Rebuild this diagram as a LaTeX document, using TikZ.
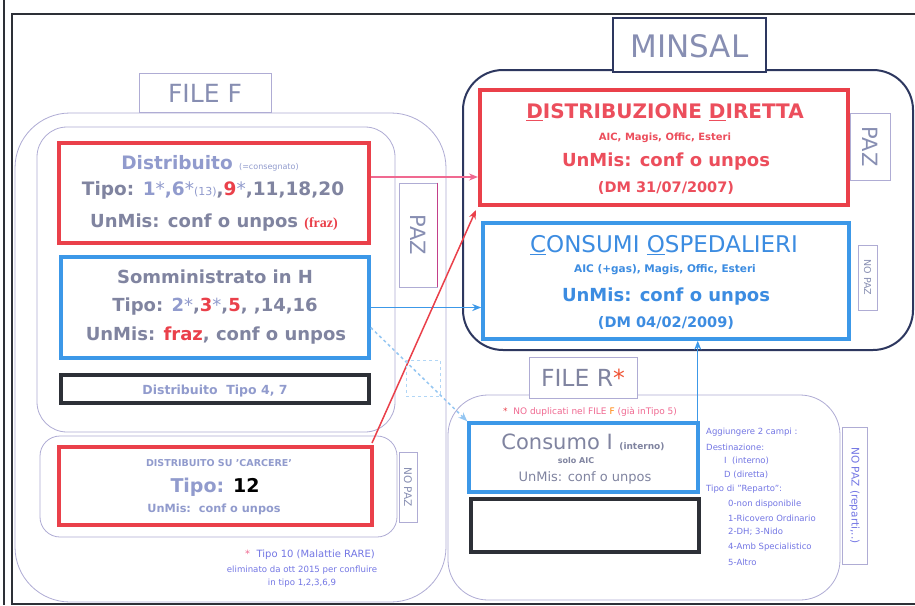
\documentclass[tikz,border=0pt]{standalone}
\usepackage{fontspec}
\setmainfont{DejaVu Sans}
\newfontfamily\serifx{Liberation Serif}
\usetikzlibrary{arrows.meta}
\definecolor{tg}{RGB}{128,132,160}
\definecolor{tb}{RGB}{145,155,205}
\definecolor{rd}{RGB}{234,64,74}
\definecolor{ddt}{RGB}{236,78,92}
\definecolor{pk}{RGB}{240,105,145}
\definecolor{bl}{RGB}{60,152,232}
\definecolor{blt}{RGB}{60,140,225}
\definecolor{dk}{RGB}{45,48,55}
\definecolor{nv}{RGB}{45,55,95}
\definecolor{lg}{RGB}{175,172,212}
\definecolor{vi}{RGB}{115,118,228}
\definecolor{lbt}{RGB}{135,142,178}
\newcommand\fz[1]{\fontsize{#1}{#1}\selectfont}
\newcommand\st{\textcolor{tb}{\textmd{*}}}
\begin{document}
\begin{tikzpicture}[x=1pt,y=-1pt,
  redbox/.style={draw=rd, line width=4pt, inner sep=0pt},
  bluebox/.style={draw=bl, line width=3.5pt, inner sep=0pt},
  blkbox/.style={draw=dk, line width=4.5pt, inner sep=0pt},
  lbl/.style={draw=lg, line width=0.7pt, inner sep=0pt},
  cont/.style={draw=lg, line width=0.8pt},
  txt/.style={inner sep=0pt, anchor=center},
  rtxt/.style={inner sep=0pt, anchor=west, text=vi, font=\fz{8.5}},
  arr/.style={-{Stealth[length=9pt,width=7pt]}},
]
\useasboundingbox (0,0) rectangle (915,605);
\fill[white] (0,0) rectangle (915,605);
% frame
\draw[dk, line width=1.3pt] (4,0) -- (4,605);
\draw[dk, line width=1.3pt] (915,14) -- (12,14) -- (12,604) -- (915,604);

% containers
\draw[cont, rounded corners=55pt] (15,113) rectangle (446,602);
\draw[cont, rounded corners=30pt] (37,127) rectangle (395,432);
\draw[cont, rounded corners=20pt] (40,436) rectangle (397,537);
\draw[nv, line width=2pt, rounded corners=40pt] (463,70) rectangle (913,350);
\draw[cont, rounded corners=40pt] (448,395) rectangle (840,600);

% labels
\node[lbl, minimum width=132pt, minimum height=39pt, fill=white] (fileF) at (205,92.5) {};
\node[txt, text=lbt, font=\fz{25}] (fileFt) at (205,93) {FILE F};
\node[draw=nv, line width=1.8pt, inner sep=0pt, minimum width=153pt, minimum height=54pt, fill=white] (minsal) at (689.5,45) {};
\node[txt, text=lbt, font=\fz{31}] (minsalt) at (689.5,46) {MINSAL};
\node[lbl, minimum width=108pt, minimum height=41pt, fill=white] (fileR) at (583,377.5) {};
\node[txt, text=tg, font=\fz{23.5}] (fileRt) at (583,378) {FILE R\textcolor{rd!70!orange}{*}};

% PAZ boxes
\node[lbl, minimum width=38pt, minimum height=104pt] (pazL) at (418,235) {};
\draw[pk!60!violet, line width=0.7pt] (pazL.north east) -- (pazL.south east);
\node[txt, text=lbt, font=\fz{21}, rotate=-90] (pazLt) at (418,235) {PAZ};
\node[lbl, minimum width=40pt, minimum height=67pt] (pazR) at (870,146.5) {};
\node[txt, text=lbt, font=\fz{21}, rotate=-90] (pazRt) at (870,146.5) {PAZ};
\node[lbl, minimum width=19pt, minimum height=65pt] (npC) at (867.5,277.5) {};
\node[txt, text=lbt, font=\fz{9.5}, rotate=-90] (npCt) at (867.5,277.5) {NO PAZ};
\node[lbl, minimum width=18pt, minimum height=70pt] (npK) at (408,487) {};
\node[txt, text=lbt, font=\fz{10.5}, rotate=-90] (npKt) at (408,487) {NO PAZ};
\node[lbl, minimum width=25pt, minimum height=137pt] (npR) at (854.5,495.5) {};
\node[txt, text=vi, font=\fz{10.5}, rotate=-90] (npRt) at (854.5,495.5) {NO PAZ (reparti,..)};

% FILE F boxes
\node[redbox, minimum width=310pt, minimum height=100pt] (distr) at (214,193) {};
\node[txt, text=tb, font=\bfseries\fz{18.5}] (d1) at (210,163) {Distribuito \textmd{\fz{8}(=consegnato)}};
\node[txt, text=tg, font=\bfseries\fz{18.5}] (d2) at (213,190) {Tipo: \textcolor{tb}{1\st,6\st\textmd{\fz{11}(13)}},\textcolor{rd}{9}\st,11,18,20};
\node[txt, text=tg, font=\bfseries\fz{18}] (d3) at (214,223) {UnMis: conf o unpos \textcolor{rd}{\serifx\fz{14}(fraz)}};

\node[bluebox, minimum width=308pt, minimum height=101pt] (somm) at (215,307.5) {};
\node[txt, text=tg, font=\bfseries\fz{18}] (s1) at (215,277) {Somministrato in H};
\node[txt, text=tg, font=\bfseries\fz{18}] (s2) at (215,307) {Tipo: \textcolor{tb}{2\st},\textcolor{rd}{3}\st,\textcolor{rd}{5}, ,14,16};
\node[txt, text=tg, font=\bfseries\fz{18}] (s3) at (216,336) {UnMis: \textcolor{rd}{fraz}, conf o unpos};

\node[blkbox, minimum width=308pt, minimum height=28pt] (blk1) at (215,389) {};
\node[txt, text=tb, font=\bfseries\fz{12.5}] (b1) at (215,391) {Distribuito\ \ Tipo 4, 7};

\node[redbox, minimum width=313pt, minimum height=78pt] (carc) at (215.5,486) {};
\node[txt, text=tb, font=\bfseries\fz{9.5}] (c1) at (219,463) {DISTRIBUITO SU 'CARCERE'};
\node[txt, text=tb, font=\bfseries\fz{19}] (c2) at (215,487) {Tipo: \textcolor{black}{12}};
\node[txt, text=tb, font=\bfseries\fz{11.3}] (c3) at (214,509) {UnMis:\ \ conf o unpos};

\node[txt, text=vi, font=\fz{10}] (f1) at (310,555) {\textcolor{pk}{*}\ \ Tipo 10 (Malattie RARE)};
\node[txt, text=vi, font=\fz{8.6}] (f2) at (302,570) {eliminato da ott 2015 per confluire};
\node[txt, text=vi, font=\fz{8.6}] (f3) at (302,583) {in tipo 1,2,3,6,9};

% MINSAL boxes
\node[redbox, minimum width=368pt, minimum height=115pt] (dd) at (664,147.5) {};
\node[txt, text=ddt, font=\bfseries\fz{20}] (dd1) at (665,112) {\underline{D}ISTRIBUZIONE \underline{D}IRETTA};
\node[txt, text=ddt, font=\bfseries\fz{10}] (dd2) at (665,138) {AIC, Magis, Offic, Esteri};
\node[txt, text=ddt, font=\bfseries\fz{18}] (dd3) at (666,162) {UnMis: conf o unpos};
\node[txt, text=ddt, font=\bfseries\fz{14.5}] (dd4) at (666,188) {(DM 31/07/2007)};

\node[bluebox, minimum width=366pt, minimum height=116pt] (cons) at (666,281) {};
\node[txt, text=blt, font=\fz{23}] (co1) at (664,245) {\underline{C}ONSUMI \underline{O}SPEDALIERI};
\node[txt, text=blt, font=\bfseries\fz{10.5}] (co2) at (665,270) {AIC (+gas), Magis, Offic, Esteri};
\node[txt, text=blt, font=\bfseries\fz{18}] (co3) at (666,297) {UnMis: conf o unpos};
\node[txt, text=blt, font=\bfseries\fz{14.5}] (co4) at (666,323) {(DM 04/02/2009)};

% FILE R boxes
\node[txt, text=pk, font=\fz{9}] (nd) at (590,412) {\textcolor{rd}{*}\ \ NO duplicati nel FILE \textcolor{orange}{F} (già inTipo 5)};
\node[bluebox, minimum width=229pt, minimum height=69pt] (cI) at (583.5,457.5) {};
\node[txt, text=tg, font=\fz{21}] (ci1) at (583,442) {Consumo I \textbf{\fz{9}(interno)}};
\node[txt, text=tg, font=\bfseries\fz{8}] (ci2) at (576,461) {solo AIC};
\node[txt, text=tg, font=\fz{13}] (ci3) at (585,478) {UnMis: conf o unpos};
\node[blkbox, minimum width=228pt, minimum height=53pt] (blk2) at (585,525.5) {};

\node[rtxt] (r1) at (706,432) {Aggiungere 2 campi :};
\node[rtxt] (r2) at (706,447) {Destinazione:};
\node[rtxt] (r3) at (724,461) {I\ \ (interno)};
\node[rtxt] (r4) at (724,475) {D (diretta)};
\node[rtxt] (r5) at (706,489) {Tipo di "Reparto":};
\node[rtxt] (r6) at (728,504) {0-non disponibile};
\node[rtxt] (r7) at (728,518) {1-Ricovero Ordinario};
\node[rtxt] (r8) at (728,532) {2-DH; 3-Nido};
\node[rtxt] (r9) at (728,547) {4-Amb Specialistico};
\node[rtxt] (r10) at (728,562) {5-Altro};

% connectors
\draw[pk, line width=1.5pt, arr] ([yshift=16pt]distr.east) -- ([yshift=16pt]distr.east -| dd.west);
\draw[bl, line width=1.5pt, arr] (somm.east) -- (somm.east -| cons.west);
\draw[rd, line width=1.5pt, arr] ([shift={(-2pt,2pt)}]carc.north east) -- ([shift={(-2pt,-3pt)}]dd.south west);
\draw[bl!55, line width=1.5pt, dashed, arr] ([yshift=-20pt]somm.east) -- (cI.north west);
\draw[bl!40, line width=0.8pt, dashed] (406,360) rectangle (440,396);
\draw[bl, line width=1.3pt, arr] ([xshift=-2pt]cI.north east) -- ([xshift=-2pt]cI.north east |- cons.south);
\end{tikzpicture}
\end{document}
